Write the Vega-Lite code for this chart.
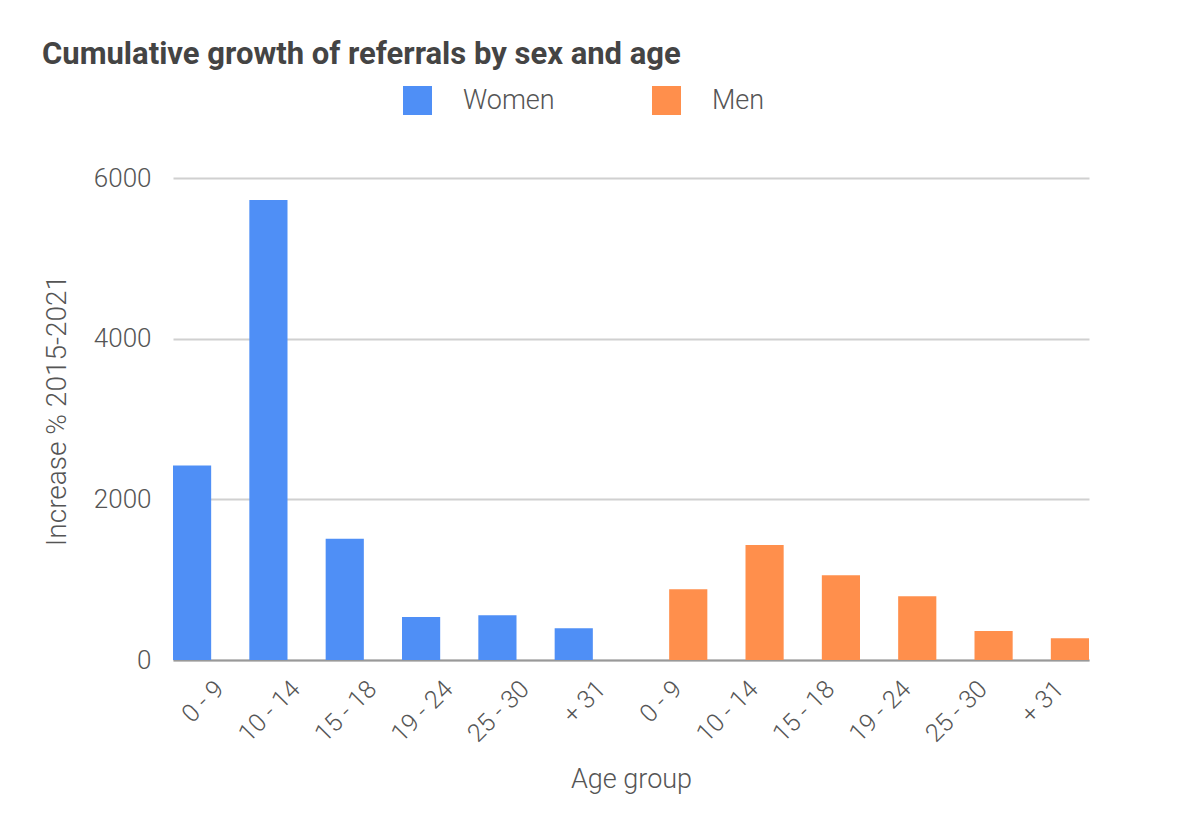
{
  "$schema": "https://vega.github.io/schema/vega-lite/v6.json",
  "width": 916,
  "height": 482,
  "autosize": {"type": "none"},
  "padding": {"left": 173, "top": 178, "right": 111, "bottom": 168},
  "background": "white",
  "title": {
    "text": "Cumulative growth of referrals by sex and age",
    "anchor": "start",
    "frame": "group",
    "dx": -131,
    "offset": 15,
    "font": "Roboto",
    "fontSize": 31,
    "fontWeight": "bold",
    "color": "#444444"
  },
  "data": {
    "values": [
      {"group": "Women|0 - 9", "sex": "Women", "value": 2420},
      {"group": "Women|10 - 14", "sex": "Women", "value": 5725},
      {"group": "Women|15 - 18", "sex": "Women", "value": 1508},
      {"group": "Women|19 - 24", "sex": "Women", "value": 535},
      {"group": "Women|25 - 30", "sex": "Women", "value": 556},
      {"group": "Women|+ 31", "sex": "Women", "value": 394},
      {"group": "Men|0 - 9", "sex": "Men", "value": 880},
      {"group": "Men|10 - 14", "sex": "Men", "value": 1431},
      {"group": "Men|15 - 18", "sex": "Men", "value": 1054},
      {"group": "Men|19 - 24", "sex": "Men", "value": 793},
      {"group": "Men|25 - 30", "sex": "Men", "value": 361},
      {"group": "Men|+ 31", "sex": "Men", "value": 270}
    ]
  },
  "mark": {"type": "bar"},
  "encoding": {
    "x": {
      "field": "group",
      "type": "nominal",
      "sort": null,
      "scale": {"paddingInner": 0, "paddingOuter": 0},
      "axis": {
        "title": "Age group",
        "labelExpr": "split(datum.value, '|')[1]",
        "labelAngle": -45,
        "labelPadding": 16,
        "labelFontSize": 25,
        "labelColor": "#555555",
        "labelFont": "Roboto",
        "labelFontWeight": 300,
        "titleFont": "Roboto",
        "titleFontWeight": 300,
        "titleFontSize": 27,
        "titleColor": "#555555",
        "titlePadding": 20,
        "ticks": false,
        "domainColor": "#999999",
        "domainWidth": 2,
        "grid": false
      }
    },
    "xOffset": {
      "field": "sex",
      "type": "nominal",
      "scale": {"domain": ["Women", "Men"], "paddingInner": 0, "paddingOuter": 0}
    },
    "y": {
      "field": "value",
      "type": "quantitative",
      "scale": {"domain": [0, 6000]},
      "axis": {
        "title": "Increase % 2015-2021",
        "values": [0, 2000, 4000, 6000],
        "format": "d",
        "labelFontSize": 26,
        "labelColor": "#555555",
        "labelFont": "Roboto",
        "labelFontWeight": 300,
        "labelPadding": 22,
        "titleFont": "Roboto",
        "titleFontWeight": 300,
        "titleFontSize": 28,
        "titleColor": "#555555",
        "titlePadding": 22,
        "titleY": 232,
        "ticks": false,
        "domain": false,
        "gridColor": "#d0d0d0",
        "gridWidth": 2
      }
    },
    "color": {
      "field": "sex",
      "type": "nominal",
      "scale": {"domain": ["Women", "Men"], "range": ["#4F8FF6", "#FF8F4C"]},
      "legend": {
        "title": null,
        "orient": "none",
        "direction": "horizontal",
        "legendX": 230,
        "legendY": -92,
        "symbolType": "square",
        "symbolSize": 841,
        "symbolStrokeWidth": 0,
        "labelFont": "Roboto",
        "labelFontWeight": 300,
        "labelFontSize": 27,
        "labelColor": "#555555",
        "labelOffset": 31,
        "columnPadding": 97
      }
    }
  },
  "config": {"view": {"stroke": null}}
}
